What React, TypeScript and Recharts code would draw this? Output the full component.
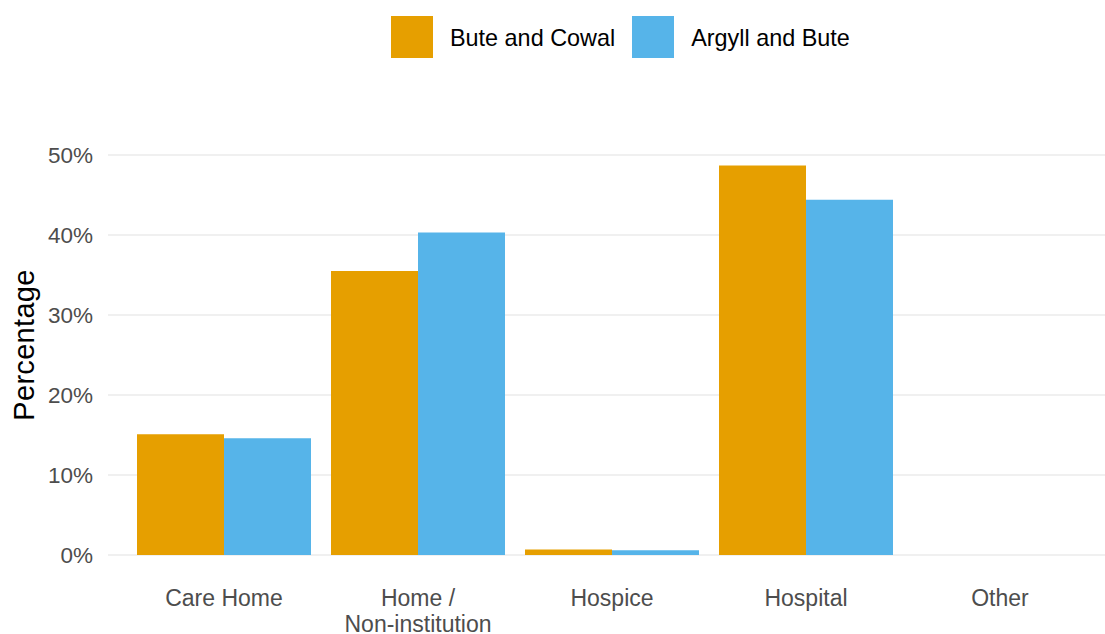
import React from 'react';
import { BarChart, Bar, XAxis, YAxis, CartesianGrid, Legend } from 'recharts';

const categories = ['Care Home', 'Home /\nNon-institution', 'Hospice', 'Hospital', 'Other'];
const buteAndCowal = [15.1, 35.5, 0.7, 48.7, 0];
const argyllAndBute = [14.6, 40.3, 0.6, 44.4, 0];
const yTicks = [0, 10, 20, 30, 40, 50];

const seriesNames = ['Bute and Cowal', 'Argyll and Bute'];
const colors = ['#E69F00', '#56B4E9'];

const data = categories.map((c, i) => ({
  category: c,
  bute: buteAndCowal[i],
  argyll: argyllAndBute[i],
}));

const FONT = 'Liberation Sans, Arial, sans-serif';

const XTick = (props: any) => {
  const { x, y, payload } = props;
  const lines = String(payload.value).split('\n');
  return (
    <text x={x} y={y} textAnchor="middle" fill="#4D4D4D" fontSize={23} fontFamily={FONT}>
      {lines.map((l, i) => (
        <tspan key={i} x={x} dy={i === 0 ? 43 : 26}>
          {l}
        </tspan>
      ))}
    </text>
  );
};

const LegendContent = () => (
  <div
    style={{
      display: 'flex',
      justifyContent: 'flex-start',
      alignItems: 'center',
      fontFamily: FONT,
      fontSize: 23.4,
      color: '#000',
      paddingLeft: 391,
      height: 42,
    }}
  >
    {seriesNames.map((n, i) => (
      <div key={n} style={{ display: 'flex', alignItems: 'center', marginRight: 17 }}>
        <div style={{ width: 42, height: 42, background: colors[i], marginRight: 17 }} />
        <span style={{ lineHeight: '42px', position: 'relative', top: 1 }}>{n}</span>
      </div>
    ))}
  </div>
);

export default function App() {
  return (
    <div style={{ position: 'absolute', top: 0, left: 0, width: 1105, height: 634, background: '#fff' }}>
      <BarChart
        width={1105}
        height={634}
        data={data}
        margin={{ top: 155, right: 0, bottom: 0, left: 0 }}
        barCategoryGap={10}
        barGap={0}
        style={{ overflow: 'visible' }}
      >
        <CartesianGrid horizontal={true} vertical={false} stroke="#EBEBEB" strokeWidth={1.6} />
        <XAxis
          dataKey="category"
          axisLine={false}
          tickLine={false}
          height={79}
          interval={0}
          padding={{ left: 19, right: 8 }}
          tick={<XTick />}
        />
        <YAxis
          width={108}
          domain={[0, 50]}
          ticks={yTicks}
          axisLine={false}
          tickLine={false}
          tickMargin={9}
          tickFormatter={(v: number) => `${v}%`}
          tick={{ fill: '#4D4D4D', fontSize: 22.5, fontFamily: FONT }}
          label={{
            content: () => (
              <text
                x={34}
                y={345}
                transform="rotate(-90, 34, 345)"
                textAnchor="middle"
                fill="#000"
                fontSize={29}
                letterSpacing={0.3}
                fontFamily={FONT}
              >
                Percentage
              </text>
            ),
          }}
        />
        <Legend
          layout="horizontal"
          verticalAlign="middle"
          align="center"
          wrapperStyle={{ top: 16, left: 0, width: 1105, height: 42 }}
          content={<LegendContent />}
        />
        <Bar dataKey="bute" name={seriesNames[0]} fill={colors[0]} isAnimationActive={false} />
        <Bar dataKey="argyll" name={seriesNames[1]} fill={colors[1]} isAnimationActive={false} />
      </BarChart>
    </div>
  );
}
